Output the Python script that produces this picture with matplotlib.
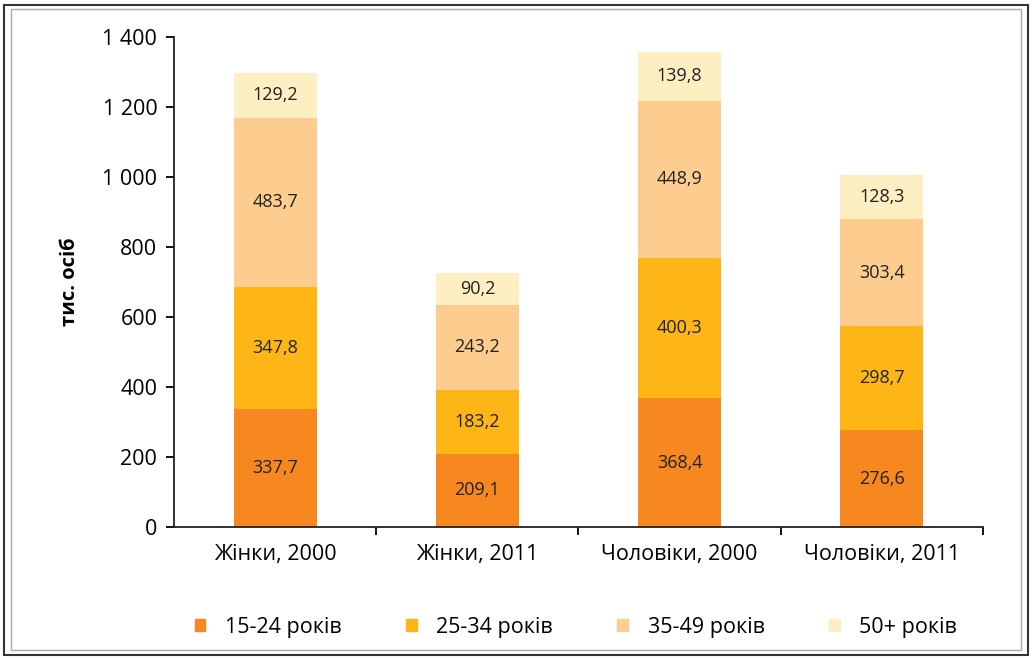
import matplotlib
matplotlib.use("Agg")
import matplotlib.pyplot as plt
import matplotlib.patches as mpatches
from matplotlib.ticker import FuncFormatter
import numpy as np

plt.rcParams['font.family'] = ['Open Sans', 'DejaVu Sans']

categories = ["Жінки, 2000", "Жінки, 2011", "Чоловіки, 2000", "Чоловіки, 2011"]
groups = ["15-24 років", "25-34 років", "35-49 років", "50+ років"]
age_15_24 = [337.7, 209.1, 368.4, 276.6]
age_25_34 = [347.8, 183.2, 400.3, 298.7]
age_35_49 = [483.7, 243.2, 448.9, 303.4]
age_50_plus = [129.2, 90.2, 139.8, 128.3]
colors = ["#F7871F", "#FDB615", "#FCCD8E", "#FEEFC2"]

fig = plt.figure(figsize=(10.32, 6.58), dpi=100)
ax = fig.add_axes([0.1686, 0.199, 0.7839, 0.7448])

x = np.arange(len(categories))
bottom = np.zeros(len(categories))
for vals, col, name in zip([age_15_24, age_25_34, age_35_49, age_50_plus], colors, groups):
    vals = np.array(vals)
    ax.bar(x, vals, width=0.41, bottom=bottom, color=col, label=name, edgecolor='none')
    for xi, b, v in zip(x, bottom, vals):
        ax.text(xi, b + v / 2, f"{v:.1f}".replace(".", ","), ha='center', va='center',
                fontsize=13, color='#222222')
    bottom += vals

ax.set_xlim(-0.5, 3.5)
ax.set_ylim(0, 1400)
ax.set_yticks(range(0, 1401, 200))
ax.yaxis.set_major_formatter(FuncFormatter(lambda v, p: f"{int(v):,}".replace(",", " ")))
ax.set_xticks(x)
ax.set_xticklabels(categories)
ax.set_xticks([0.5, 1.5, 2.5, 3.5], minor=True)
ax.tick_params(axis='x', which='major', length=0, pad=12, labelsize=15.5)
ax.tick_params(axis='x', which='minor', length=6, width=1.3, direction='out')
ax.tick_params(axis='y', length=6, width=1.3, direction='out', labelsize=15.5, pad=6)
for s in ['top', 'right']:
    ax.spines[s].set_visible(False)
for s in ['left', 'bottom']:
    ax.spines[s].set_linewidth(1.3)
    ax.spines[s].set_color('#222222')
ax.set_ylabel("тис. осіб", fontsize=14.5, fontweight='bold', labelpad=16)

handles = [mpatches.Patch(color=c) for c in colors]
fig.legend(handles, groups, loc='center', bbox_to_anchor=(0.558, 0.047), ncol=4,
           frameon=False, fontsize=15.5, handlelength=0.5, handleheight=0.5,
           handletextpad=0.9, columnspacing=3.0)

# frame around the figure
fig.patches.append(mpatches.Rectangle((0.004, 0.005), 0.992, 0.988, transform=fig.transFigure,
                                      fill=False, edgecolor='#333333', linewidth=1.5))
fig.patches.append(mpatches.Rectangle((0.011, 0.012), 0.978, 0.974, transform=fig.transFigure,
                                      fill=False, edgecolor='#aaaaaa', linewidth=1.0))

fig.savefig("out.png", dpi=100)
